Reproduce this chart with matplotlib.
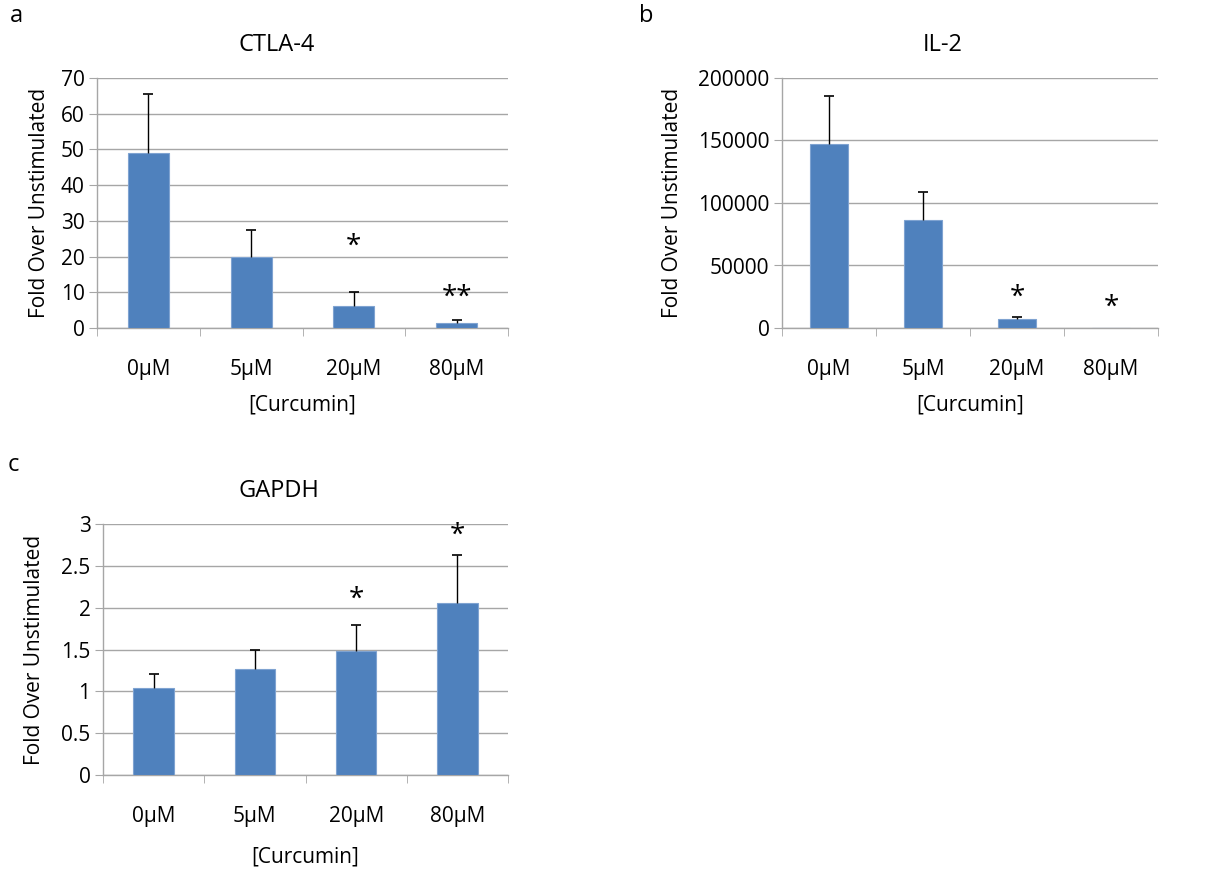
import numpy as np
import matplotlib.pyplot as plt

plt.rcParams['font.family'] = ['Open Sans', 'DejaVu Sans']

doses = ['0µM', '5µM', '20µM', '80µM']

# CTLA-4
ctla4 = [49.1, 20.0, 6.2, 1.4]
ctla4_err = [16.4, 7.4, 4.0, 0.7]
ctla4_stars = ['', '', '*', '**']
ctla4_star_y = [0, 0, 22.7, 8.4]

# IL-2
il2 = [147200, 86100, 7400, 0]
il2_err = [38000, 22700, 1500, 0]
il2_stars = ['', '', '*', '*']
il2_star_y = [0, 0, 24000, 16000]

# GAPDH
gapdh = [1.04, 1.27, 1.48, 2.05]
gapdh_err = [0.17, 0.23, 0.31, 0.58]
gapdh_stars = ['', '', '*', '*']
gapdh_star_y = [0, 0, 2.10, 2.86]

W, H = 1224, 871
fig = plt.figure(figsize=(W / 100, H / 100), dpi=100)

bar_col = '#4F81BD'
grid_col = '#A6A6A6'
fs = 15


def panel(px_left, px_right, px_top, px_bot, vals, err, stars, star_y,
          ymax, ystep, title, title_x, letter, letter_xy, ylab_x, xlab_y):
    ax = fig.add_axes([px_left / W, 1 - px_bot / H,
                       (px_right - px_left) / W, (px_bot - px_top) / H])
    x = np.arange(len(vals))
    vals = np.array(vals)
    top = vals + np.array(err)
    ax.bar(x, vals, width=0.4, color=bar_col, edgecolor='#7FA3D1',
           linewidth=0.8, zorder=3)
    # upper error bars only
    has = np.array(err) > 0
    ax.vlines(x[has], vals[has], top[has], color='black', lw=1, zorder=4)
    ax.plot(x[has], top[has], ls='none', marker='_', ms=7, mew=1.2,
            color='black', zorder=4)
    for xi, s, sy in zip(x, stars, star_y):
        if s:
            ax.text(xi, sy, s, ha='center', va='center', fontsize=20,
                    color='black')
    ax.set_xlim(-0.5, len(vals) - 0.5)
    ax.set_ylim(0, ymax)
    ax.set_yticks(np.arange(0, ymax + ystep / 2, ystep))
    ax.yaxis.set_major_formatter(plt.FuncFormatter(lambda v, p: f'{v:g}' if ystep < 1 else f'{int(v)}'))
    ax.grid(axis='y', color=grid_col, linewidth=1, zorder=0)
    for s in ['top', 'right']:
        ax.spines[s].set_visible(False)
    for s in ['left', 'bottom']:
        ax.spines[s].set_color(grid_col)
        ax.spines[s].set_linewidth(1)
    ax.tick_params(axis='y', length=6, color=grid_col, labelsize=fs, pad=3)
    ax.set_xticks(x)
    ax.set_xticklabels(doses)
    ax.tick_params(axis='x', which='major', length=0, labelsize=fs, pad=22)
    ax.set_xticks(np.arange(-0.5, len(vals)), minor=True)
    ax.tick_params(axis='x', which='minor', length=6, color=grid_col)
    ax.set_ylabel('Fold Over Unstimulated', fontsize=fs)
    ax.yaxis.set_label_coords(ylab_x, 0.5)
    ax.set_xlabel('[Curcumin]', fontsize=fs)
    ax.xaxis.set_label_coords(0.5, xlab_y)
    fig.text(title_x / W, 1 - (px_top - 33) / H, title, ha='center',
             va='center', fontsize=17)
    fig.text(letter_xy[0] / W, 1 - letter_xy[1] / H, letter, ha='center',
             va='center', fontsize=17)
    return ax


panel(97, 508, 78, 328, ctla4, ctla4_err, ctla4_stars, ctla4_star_y,
      70, 10, 'CTLA-4', 277, 'a', (16, 16), -0.114, -0.265)
panel(782, 1158, 78, 328, il2, il2_err, il2_stars, il2_star_y,
      200000, 50000, 'IL-2', 943, 'b', (646, 16), -0.263, -0.265)
panel(103, 508, 524, 775, gapdh, gapdh_err, gapdh_stars, gapdh_star_y,
      3, 0.5, 'GAPDH', 279, 'c', (13, 465), -0.143, -0.285)

fig.savefig('out.png', dpi=100)
